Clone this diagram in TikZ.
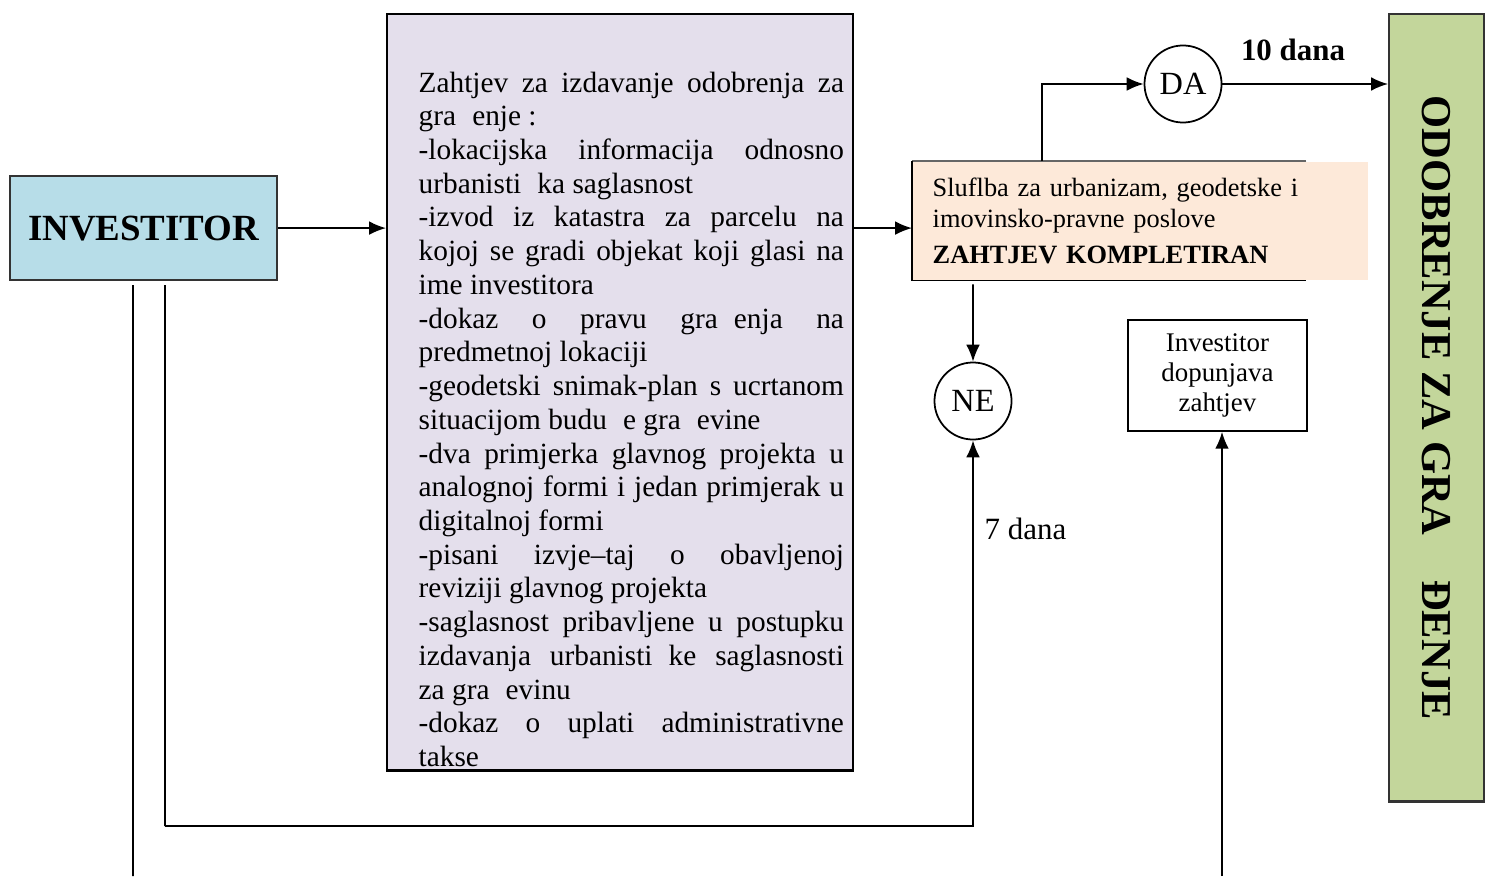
\documentclass[tikz,border=0pt]{standalone}
\usepackage{fontspec}
\setmainfont{Liberation Serif}
\usetikzlibrary{arrows.meta}

\definecolor{invblue}{HTML}{B7DDE8}
\definecolor{reqlilac}{HTML}{E4DFEC}
\definecolor{slpeach}{HTML}{FDE9D9}
\definecolor{odogreen}{HTML}{C3D69B}

\newcommand\fline[1]{\makebox[\linewidth][s]{#1}}
\newcommand\gap{\hspace{0.55em}}

\begin{document}
\begin{tikzpicture}[x=0.01cm,y=-0.01cm,
  arr/.style={line width=0.5pt,-{Latex[length=4.8pt,width=3.9pt]}},
  box/.style={rectangle,inner sep=0pt,anchor=north west},
  dec/.style={circle,draw,line width=0.5pt,minimum size=0.77cm,inner sep=0pt,
    font=\fontsize{9.2}{11}\selectfont}]

\useasboundingbox (0,0) rectangle (1486,876);

\node[box,draw=black!80,line width=0.6pt,fill=invblue,minimum width=2.67cm,minimum height=1.04cm,
  font=\bfseries\fontsize{10.5}{12}\selectfont] (inv) at (9,175) {INVESTITOR};

\node[box,draw,line width=0.6pt,fill=reqlilac,minimum width=4.66cm,minimum height=7.56cm] (req) at (386,13) {};
\node[box,text width=4.25cm,align=justify,font=\fontsize{8.34}{9.59}\selectfont] (reqtext) at (418,71) {%
\fline{Zahtjev za izdavanje odobrenja za}\\
gra\gap enje :\\
\fline{-lokacijska informacija odnosno}\\
urbanisti\gap ka saglasnost\\
\fline{-izvod iz katastra za parcelu na}\\
\fline{kojoj se gradi objekat koji glasi na}\\
ime investitora\\
\fline{-dokaz o pravu gra\gap enja na}\\
predmetnoj lokaciji\\
\fline{-geodetski snimak-plan s ucrtanom}\\
situacijom budu\gap e gra\gap evine\\
\fline{-dva primjerka glavnog projekta u}\\
\fline{analognoj formi i jedan primjerak u}\\
digitalnoj formi\\
\fline{-pisani izvje–taj o obavljenoj}\\
reviziji glavnog projekta\\
\fline{-saglasnost pribavljene u postupku}\\
\fline{izdavanja urbanisti\gap ke saglasnosti}\\
za gra\gap evinu\\
\fline{-dokaz o uplati administrativne}\\
takse};

\node[box,fill=slpeach,minimum width=4.55cm,minimum height=1.18cm,inner xsep=0.2cm,
  text width=4.15cm,align=left,font=\fontsize{7.5}{8.82}\selectfont] (sl) at (912,161)
  {Sluflba za urbanizam, geodetske i\\imovinsko-pravne poslove\\[1.4pt]\textbf{ZAHTJEV KOMPLETIRAN}};
\draw[line width=0.4pt,black!60] ([xshift=3.94cm]sl.north west) -- (sl.north west);
\draw[line width=0.5pt] (sl.north west) -- (sl.south west) -- ([xshift=3.94cm]sl.south west);

\node[box,draw=black!80,line width=0.6pt,fill=odogreen,minimum width=0.95cm,minimum height=7.87cm] (odo) at (1388,13) {};
\node[rotate=-90,font=\bfseries\fontsize{12.1}{14}\selectfont] (odotext) at (odo.center)
  {ODOBRENJE ZA GRA\hspace{1.05em}ĐENJE};

\node[dec] (da) at (1183,84) {DA};
\node[dec] (ne) at (973,401) {NE};

\node[box,draw,line width=0.5pt,minimum width=1.79cm,minimum height=1.11cm,align=center,
  font=\fontsize{7.65}{8.6}\selectfont] (dop) at (1127,319) {Investitor\\dopunjava\\zahtjev};

\node[font=\bfseries\fontsize{8.8}{10}\selectfont] (ten) at (1293,50) {10 dana};
\node[anchor=west,inner sep=0pt,font=\fontsize{8.8}{10}\selectfont] (seven) at (984,529) {7 dana};

% connectors
\draw[arr] (inv.east) -- (inv.east -| req.west);
\draw[arr] (req.east |- inv.east) -- (sl.west |- inv.east);
\draw[arr] ([xshift=1.3cm]sl.north west) |- (da.west);
\draw[arr] (da.east) -- (da.east -| odo.west);
\draw[arr] ([xshift=0.61cm,yshift=-0.04cm]sl.south west) -- (ne.north);

\coordinate (bend) at (165,826);
\coordinate (invout) at (133,876);
\coordinate (dopin) at (1222,876);
\draw[line width=0.5pt] ([xshift=1.56cm,yshift=-0.04cm]inv.south west) -- (bend);
\draw[arr] (bend) -| (ne.south);
\draw[line width=0.5pt] ([xshift=1.24cm,yshift=-0.04cm]inv.south west) -- (invout);
\draw[arr] (dopin) -- (dopin |- dop.south);

\end{tikzpicture}
\end{document}
